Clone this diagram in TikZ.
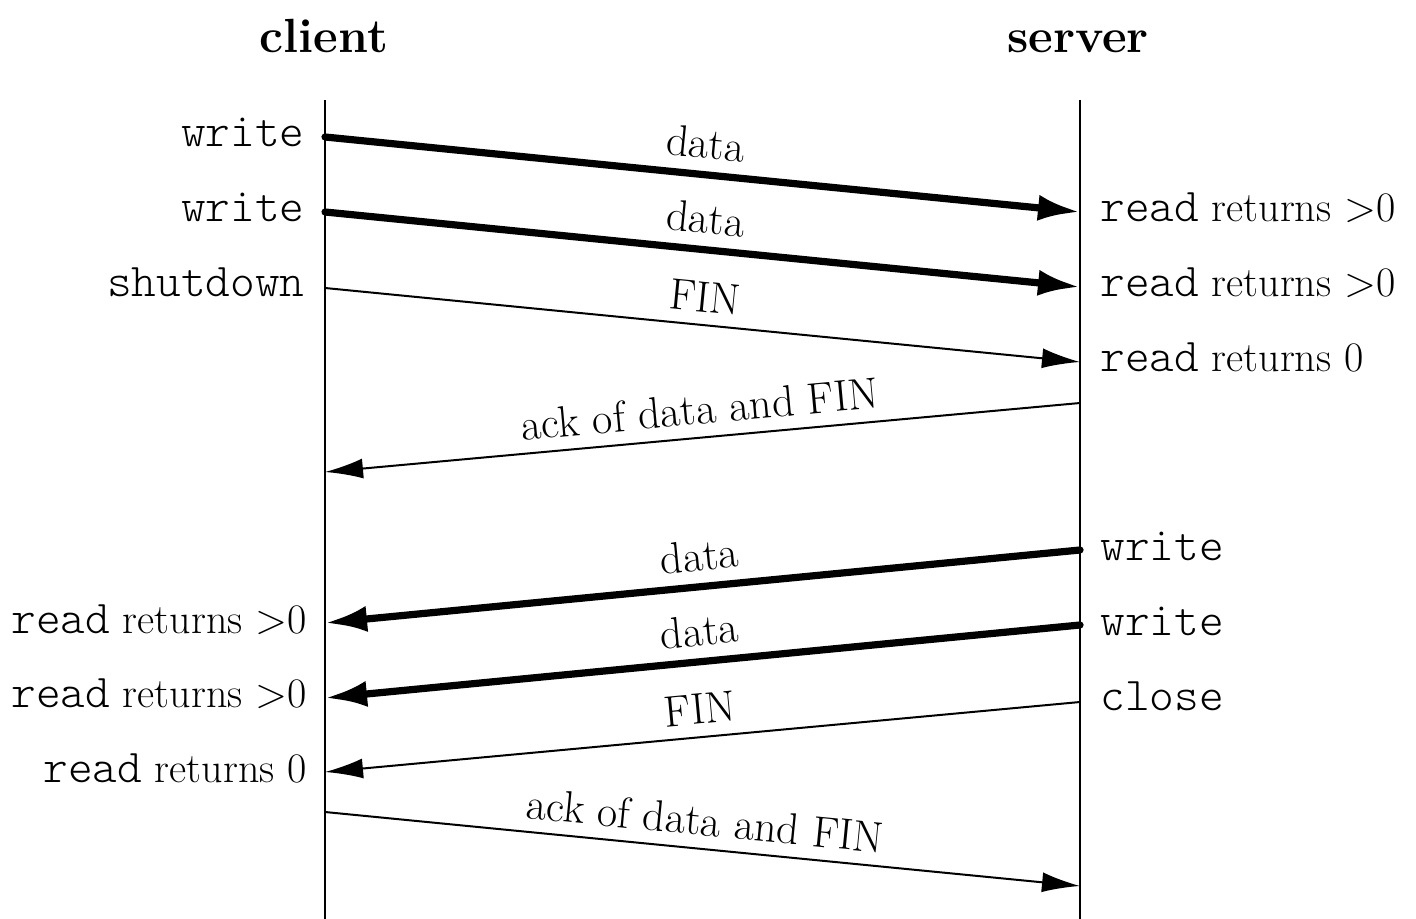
\documentclass[tikz,border=0pt]{standalone}
\usepackage{fontspec}
\usetikzlibrary{arrows.meta}
\newcommand{\tw}[1]{{\ttfamily\fontseries{l}\fontsize{23.5}{27}\selectfont #1}}
\begin{document}
\begin{tikzpicture}[x=0.5pt,y=-0.5pt,
  life/.style={line width=0.8pt},
  fatmsg/.style={line width=3.6pt, line cap=round, -{Latex[length=21pt,width=13pt]}},
  thinmsg/.style={line width=1pt, -{Latex[length=19pt,width=10pt]}},
  lbl/.style={midway, sloped, above=6pt, inner sep=0pt, font=\fontsize{22}{26}\selectfont},
  lside/.style={anchor=base east, inner sep=0pt, font=\fontsize{21}{25}\selectfont},
  rside/.style={anchor=base west, inner sep=0pt, font=\fontsize{21}{25}\selectfont},
  title/.style={anchor=base, inner sep=0pt, font=\fontsize{24}{28}\selectfont\bfseries}]
\useasboundingbox (0,0) rectangle (1416,919);
% titles
\node[title] (tc) at (324,53) {client};
\node[title] (ts) at (1078,53) {server};
% lifelines
\coordinate (ctop) at (325,100);
\coordinate (cbot) at (325,919);
\coordinate (stop) at (1080,100);
\coordinate (sbot) at (1080,919);
\draw[life] (ctop) -- (cbot);
\draw[life] (stop) -- (sbot);
% event points
\coordinate (c1) at (325,137);
\coordinate (s1) at (1080,212);
\coordinate (c2) at (325,212);
\coordinate (s2) at (1080,287);
\coordinate (c3) at (325,288);
\coordinate (s3) at (1080,362);
\coordinate (s4) at (1080,403);
\coordinate (c4) at (325,472);
\coordinate (s5) at (1080,550);
\coordinate (c5) at (325,623);
\coordinate (s6) at (1080,625);
\coordinate (c6) at (325,698);
\coordinate (s7) at (1080,702);
\coordinate (c7) at (325,772);
\coordinate (c8) at (325,812);
\coordinate (s8) at (1080,886);
% messages
\draw[fatmsg] (c1) -- node[lbl] {data} (s1);
\draw[fatmsg] (c2) -- node[lbl] {data} (s2);
\draw[thinmsg] (c3) -- node[lbl] {FIN} (s3);
\draw[thinmsg] (s4) -- node[lbl] {ack of data and FIN} (c4);
\draw[fatmsg] (s5) -- node[lbl] {data} (c5);
\draw[fatmsg] (s6) -- node[lbl] {data} (c6);
\draw[thinmsg] (s7) -- node[lbl] {FIN} (c7);
\draw[thinmsg] (c8) -- node[lbl] {ack of data and FIN} (s8);
% client side labels
\node[lside] (lw1) at (305,147) {\tw{write}};
\node[lside] (lw2) at (305,222) {\tw{write}};
\node[lside] (lsd) at (305,297) {\tw{shutdown}};
\node[lside] (lr1) at (307,633) {\tw{read} returns >0};
\node[lside] (lr2) at (307,707) {\tw{read} returns >0};
\node[lside] (lr3) at (307,782) {\tw{read} returns 0};
% server side labels
\node[rside] (rr1) at (1100,222) {\tw{read} returns >0};
\node[rside] (rr2) at (1100,297) {\tw{read} returns >0};
\node[rside] (rr3) at (1100,371) {\tw{read} returns 0};
\node[rside] (rw1) at (1100,560) {\tw{write}};
\node[rside] (rw2) at (1100,635) {\tw{write}};
\node[rside] (rcl) at (1100,710) {\tw{close}};
\end{tikzpicture}
\end{document}
